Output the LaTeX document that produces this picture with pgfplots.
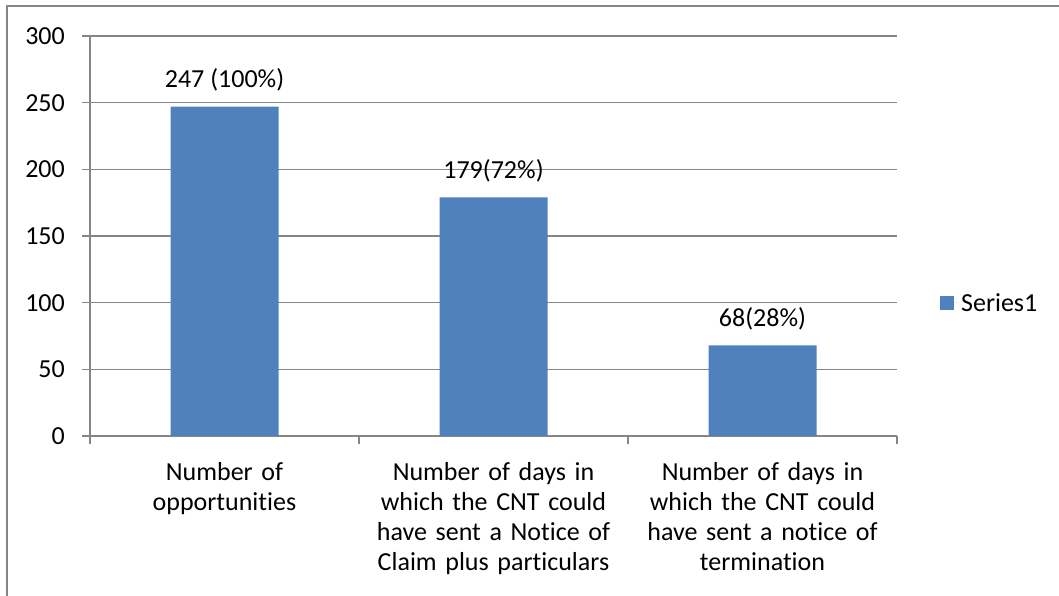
\documentclass[border=0pt]{standalone}
\usepackage{pgfplots}
\pgfplotsset{compat=1.18}
\usepackage{fontspec}
\setmainfont{Carlito}[Ligatures=NoCommon]
\definecolor{barblue}{RGB}{79,129,189}
\definecolor{axgray}{RGB}{134,134,134}
\newcommand{\cf}{\fontsize{26}{30}\selectfont}
\begin{document}
\begin{tikzpicture}
\path[use as bounding box] (0pt,0pt) rectangle (1059pt,596pt);
\draw[axgray, line width=1.6pt] (7pt,-5pt) -- (7pt,590pt) -- (1065pt,590pt);
\begin{axis}[
  at={(90pt,160pt)}, anchor=south west,
  scale only axis, width=807pt, height=400pt,
  xmin=-0.5, xmax=2.5, ymin=0, ymax=300,
  ytick={0,50,...,300},
  xtick={0,1,2},
  xticklabels={{Number of\\opportunities},
               {Number of days in\\which the CNT could\\have sent a Notice of\\Claim plus particulars},
               {Number of days in\\which the CNT could\\have sent a notice of\\termination}},
  xtick style={draw=none},
  extra x ticks={-0.5,0.5,1.5,2.5},
  extra x tick labels={},
  extra x tick style={xtick style={draw=axgray, line width=1.2pt}},
  axis x line*=bottom, axis y line*=left,
  axis line style={axgray, line width=1.2pt, -},
  ytick style={axgray, line width=1.2pt},
  tick align=outside, major tick length=8pt,
  ymajorgrids, grid style={axgray, line width=1.2pt},
  ticklabel style={font=\cf},
  /pgf/number format/assume math mode=true,
  xticklabel style={align=center, text width=270pt, inner sep=0pt, yshift=-18pt},
  yticklabel style={inner sep=0pt, xshift=-17pt},
  ybar, bar width=108pt,
  nodes near coords, point meta=explicit symbolic,
  every node near coord/.append style={font=\cf, black, inner sep=0pt, yshift=15pt},
  legend style={draw=none, at={(1.047,0.3325)}, anchor=west, font=\cf, fill=none},
  legend image code/.code={\fill[#1,draw=none] (2pt,-7pt) rectangle (16pt,7pt); \path (0pt,0pt) -- (21pt,0pt);},
]
\addplot[fill=barblue, draw=none] coordinates {
  (0,247) [247 (100\%)]
  (1,179) [179(72\%)]
  (2,68) [68(28\%)]
};
\legend{Series1}
\end{axis}
\end{tikzpicture}
\end{document}
